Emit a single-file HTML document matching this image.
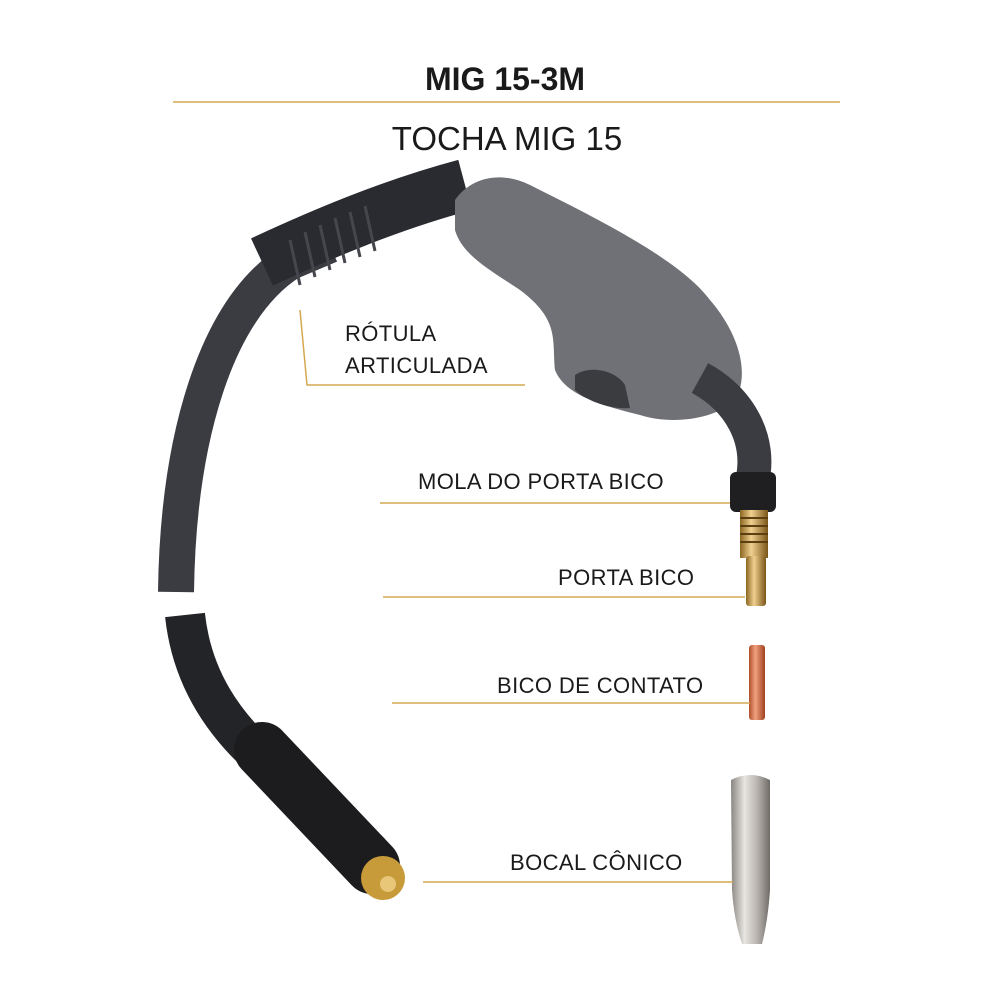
<!DOCTYPE html>
<html><head><meta charset="utf-8"><style>
html,body{margin:0;padding:0;background:#fff;width:1000px;height:1000px;overflow:hidden}
svg{display:block}
text{font-family:"Liberation Sans","DejaVu Sans",sans-serif;fill:#1a1a1a}
</style></head><body>
<svg width="1000" height="1000" viewBox="0 0 1000 1000">
<defs>
<linearGradient id="sil" x1="0" x2="1"><stop offset="0" stop-color="#8a8580"/><stop offset=".35" stop-color="#e8e6e2"/><stop offset=".7" stop-color="#b3aea8"/><stop offset="1" stop-color="#6e6a66"/></linearGradient>
<linearGradient id="cop" x1="0" x2="1"><stop offset="0" stop-color="#b0502a"/><stop offset=".4" stop-color="#f0a080"/><stop offset="1" stop-color="#a0401e"/></linearGradient>
<linearGradient id="brass" x1="0" x2="1"><stop offset="0" stop-color="#8a6520"/><stop offset=".4" stop-color="#f0d090"/><stop offset="1" stop-color="#7a5518"/></linearGradient>
</defs>
<text x="505" y="90" font-size="32" font-weight="bold" text-anchor="middle">MIG 15-3M</text>
<line x1="173" y1="102" x2="840" y2="102" stroke="#d4a850" stroke-width="1.5"/>
<text x="507" y="150" font-size="33" text-anchor="middle">TOCHA MIG 15</text>

<path d="M176,592 C178,440 215,310 290,262 L 330,245" fill="none" stroke="#3a3c42" stroke-width="36" stroke-linecap="butt"/>
<path d="M262,262 C320,235 390,205 465,185" fill="none" stroke="#2a2b30" stroke-width="52"/>
<g stroke="#45474d" stroke-width="3" fill="none">
<path d="M290,240 l10,45"/><path d="M305,232 l10,45"/><path d="M320,225 l10,45"/><path d="M335,218 l10,45"/><path d="M350,212 l10,45"/><path d="M365,206 l10,45"/>
</g>
<path d="M455,200 C470,178 500,170 530,185 C600,220 680,260 710,300 C740,335 750,375 735,400 C715,420 670,425 640,415 C600,405 565,395 555,370 C552,340 560,320 520,290 C490,270 462,255 455,230 Z" fill="#707176"/>
<path d="M575,375 C590,365 615,370 625,385 L630,408 C610,410 585,400 575,390 Z" fill="#3b3c40"/>
<path d="M700,378 C740,400 762,440 752,482" fill="none" stroke="#3a3c42" stroke-width="34"/>
<rect x="730" y="472" width="46" height="40" rx="6" fill="#1f1f22"/>
<rect x="740" y="510" width="28" height="48" fill="url(#brass)"/>
<g stroke="#5a4010" stroke-width="2"><line x1="740" y1="518" x2="768" y2="518"/><line x1="740" y1="526" x2="768" y2="526"/><line x1="740" y1="534" x2="768" y2="534"/><line x1="740" y1="542" x2="768" y2="542"/></g>
<rect x="746" y="556" width="20" height="50" rx="3" fill="url(#brass)"/>
<rect x="749" y="645" width="16" height="75" rx="3" fill="url(#cop)"/>
<path d="M731,780 Q750,770 770,780 L770,890 Q768,920 762,944 L742,944 Q734,920 732,890 Z" fill="url(#sil)"/>
<path d="M185,615 C192,680 225,725 262,758" fill="none" stroke="#232427" stroke-width="40"/>
<path d="M262,750 L372,866" fill="none" stroke="#1c1c1e" stroke-width="56" stroke-linecap="round"/>
<circle cx="383" cy="878" r="22" fill="#c79a3a"/>
<circle cx="388" cy="884" r="8" fill="#e8c878"/>

<g font-size="22" letter-spacing="0.4">
<text x="345" y="341">RÓTULA</text>
<text x="345" y="373">ARTICULADA</text>
<text x="418" y="489">MOLA DO PORTA BICO</text>
<text x="558" y="585">PORTA BICO</text>
<text x="497" y="693">BICO DE CONTATO</text>
<text x="510" y="870">BOCAL CÔNICO</text>
</g>
<g stroke="#d4a850" stroke-width="1.5" fill="none">
<polyline points="300,310 307,385 525,385"/>
<line x1="380" y1="503" x2="730" y2="503"/>
<line x1="383" y1="597" x2="745" y2="597"/>
<line x1="392" y1="703" x2="750" y2="703"/>
<line x1="423" y1="882" x2="733" y2="882"/>
</g>
</svg>
</body></html>
